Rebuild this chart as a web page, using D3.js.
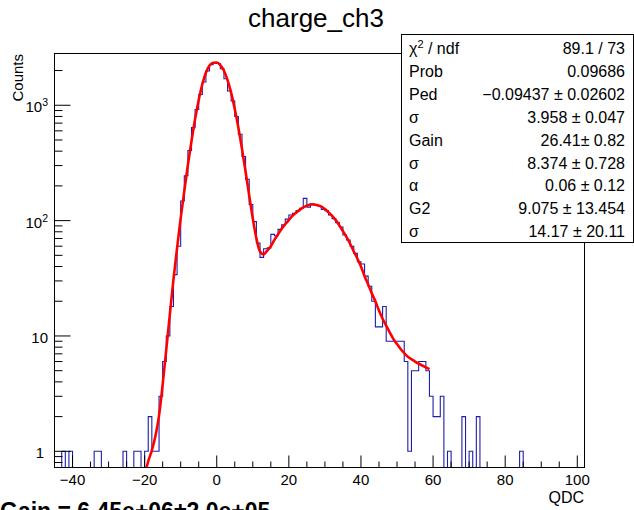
<!DOCTYPE html>
<html>
<head>
<meta charset="utf-8">
<script src="https://cdn.jsdelivr.net/npm/d3@7/dist/d3.min.js"></script>
<style>
  body { margin: 0; background: #fff; }
  svg { display: block; font-family: "Liberation Sans", Arial, Helvetica, sans-serif; }
</style>
</head>
<body>
<svg id="chart" width="634" height="510"></svg>
<script>
// charge_ch3 histogram, bins of width 1 QDC, first bin starts at -45
var binStart = -45;
var binWidth = 1;
var counts = [
  0, 0, 1, 0, 1, 0, 0, 0, 0, 0,
  0, 1, 1, 0, 0, 0, 0, 0, 0, 1,
  0, 0, 1, 1, 0, 1, 2, 1, 1, 3,
  6, 10, 18, 34, 60, 148, 245, 405, 640, 920,
  1240, 1590, 1980, 2250, 2320, 2300, 2070, 1700, 1330, 1090,
  800, 560, 360, 228, 138, 98, 64, 48, 57, 58,
  76, 74, 84, 92, 103, 112, 116, 122, 128, 156,
  131, 140, 137, 134, 125, 122, 112, 104, 96, 88,
  75, 68, 60, 52, 44, 42, 33, 27, 20, 12,
  12, 18, 9, 9, 9, 9, 9, 6, 1, 5,
  5, 6, 6, 5, 3, 2, 2, 3, 0, 1,
  0, 0, 0, 2, 0, 1, 0, 2, 0, 0,
  0, 0, 0, 0, 0, 0, 0, 0, 0, 1,
  0, 0, 0, 0, 0, 0, 0, 0, 0, 0,
  0, 0, 0, 0, 0, 0, 0
];

var fitStart = -20;
var fitValues = [
  0.62, 0.82, 1.02, 1.36, 2.05, 3.8, 7.6, 15.5, 31, 58,
  105, 180, 305, 490, 760, 1110, 1520, 1920, 2210, 2340,
  2350, 2230, 1990, 1650, 1280, 930, 640, 420, 265, 165,
  104, 70, 54, 51, 55, 60, 68, 76, 85, 93,
  101, 110, 117, 124, 130, 135, 138, 138, 136, 132,
  126, 118, 110, 101, 91, 81, 72, 63, 54, 47,
  40, 33, 28, 23.4, 20, 16.6, 14.1, 12.3, 10.7, 9.4,
  8.5, 7.7, 7.1, 6.6, 6.3, 6.0, 5.75, 5.55, 5.35, 5.15
];

var xTicks = [-40, -20, 0, 20, 40, 60, 80, 100];
var yMajor = [1, 10, 100, 1000];
var yLabels = [["1", ""], ["10", ""], ["10", "2"], ["10", "3"]];

var statNames = ["χ", "Prob", "Ped", "σ", "Gain", "σ", "α", "G2", "σ"];
var statValues = ["89.1 / 73", "0.09686", "\u22120.09437 \u00b1 0.02602", "3.958 \u00b1 0.047",
  "26.41\u00b1 0.82", "8.374 \u00b1 0.728", "0.06 \u00b1 0.12", "9.075 \u00b1 13.454", "14.17 \u00b1 20.11"];

var L = 54.5, R = 584.5, T = 53.5, B = 467.5;
var svg = d3.select("#chart");

var x = d3.scaleLinear().domain([-45, 102]).range([L, R]);
var y = d3.scaleLog().domain([0.724, 2810]).range([B, T]);

svg.append("rect").attr("width", 634).attr("height", 510).attr("fill", "#fff");

svg.append("clipPath").attr("id", "frame")
  .append("rect").attr("x", L).attr("y", T).attr("width", R - L).attr("height", B - T);

// histogram outline
var pts = [[x(binStart), B + 5]];
counts.forEach(function(c, i) {
  var lo = binStart + i * binWidth, hi = lo + binWidth;
  var yy = c > 0 ? y(c) : B + 5;
  pts.push([x(lo), yy]);
  pts.push([x(hi), yy]);
});
pts.push([x(binStart + counts.length * binWidth), B + 5]);

var plot = svg.append("g").attr("clip-path", "url(#frame)");
plot.append("path")
  .attr("d", d3.line()(pts))
  .attr("fill", "none")
  .attr("stroke", "#1c1cb0")
  .attr("stroke-width", 1.1);

// fit
var fitLine = d3.line()
  .x(function(d, i) { return x(fitStart + i); })
  .y(function(d) { return y(d); })
  .curve(d3.curveMonotoneX);
plot.append("path")
  .attr("d", fitLine(fitValues))
  .attr("fill", "none")
  .attr("stroke", "#ff0000")
  .attr("stroke-width", 2.6);

// frame
svg.append("rect").attr("x", L).attr("y", T).attr("width", R - L).attr("height", B - T)
  .attr("fill", "none").attr("stroke", "#000").attr("stroke-width", 1);

// x ticks
var ax = svg.append("g").attr("stroke", "#000").attr("stroke-width", 1);
d3.range(-45, 102, 5).forEach(function(v) {
  var major = xTicks.indexOf(v) >= 0;
  ax.append("line").attr("x1", x(v)).attr("x2", x(v))
    .attr("y1", B).attr("y2", B - (major ? 12 : 6));
});
svg.append("g").selectAll("text").data(xTicks).enter().append("text")
  .attr("x", function(d) { return x(d); })
  .attr("y", 485)
  .attr("text-anchor", "middle")
  .attr("font-size", 15)
  .text(function(d) { return d < 0 ? "\u2212" + Math.abs(d) : d; });

// y ticks
var yMinor = [0.8, 0.9];
[1, 10, 100, 1000].forEach(function(dec) {
  for (var k = 2; k <= 9; k++) {
    if (dec * k <= 2810) yMinor.push(dec * k);
  }
});
yMajor.forEach(function(v) {
  ax.append("line").attr("x1", L).attr("x2", L + 16).attr("y1", y(v)).attr("y2", y(v));
});
yMinor.forEach(function(v) {
  ax.append("line").attr("x1", L).attr("x2", L + 8).attr("y1", y(v)).attr("y2", y(v));
});
var yl = svg.append("g").selectAll("text").data(yMajor).enter().append("text")
  .attr("x", function(d) { return d === 1 ? 44 : 48; })
  .attr("y", function(d) { return y(d) + 7; })
  .attr("text-anchor", "end")
  .attr("font-size", 15);
yl.append("tspan").text(function(d, i) { return yLabels[i][0]; });
yl.append("tspan").attr("font-size", 10.5).attr("dy", -6)
  .text(function(d, i) { return yLabels[i][1]; });

// axis titles
svg.append("text").attr("transform", "translate(23," + 54 + ") rotate(-90)")
  .attr("text-anchor", "end").attr("font-size", 15).text("Counts");
svg.append("text").attr("x", 584).attr("y", 503)
  .attr("text-anchor", "end").attr("font-size", 16).text("QDC");

// title
svg.append("text").attr("x", 316).attr("y", 27)
  .attr("text-anchor", "middle").attr("font-size", 26).text("charge_ch3");

// stats box
var sb = svg.append("g");
sb.append("rect").attr("x", 401.5).attr("y", 34.5).attr("width", 232).attr("height", 208)
  .attr("fill", "#fff").attr("stroke", "#000").attr("stroke-width", 1);
statNames.forEach(function(n, i) {
  var by = 54 + 22.9 * i;
  var t = sb.append("text").attr("x", 409).attr("y", by).attr("font-size", 16);
  if (i === 0) {
    t.append("tspan").text("χ");
    t.append("tspan").attr("font-size", 11).attr("dy", -6).text("2");
    t.append("tspan").attr("dy", 6).text(" / ndf");
  } else {
    t.text(n);
  }
  sb.append("text").attr("x", 625).attr("y", by).attr("text-anchor", "end")
    .attr("font-size", 16).text(statValues[i]);
});

// gain result printed under the pad (cut by the bottom edge, as in the reference)
svg.append("text").attr("x", 0).attr("y", 519)
  .attr("font-size", 23).attr("font-weight", "bold")
  .text("Gain = 6.45e+06\u00b12.0e+05");
</script>
</body>
</html>
